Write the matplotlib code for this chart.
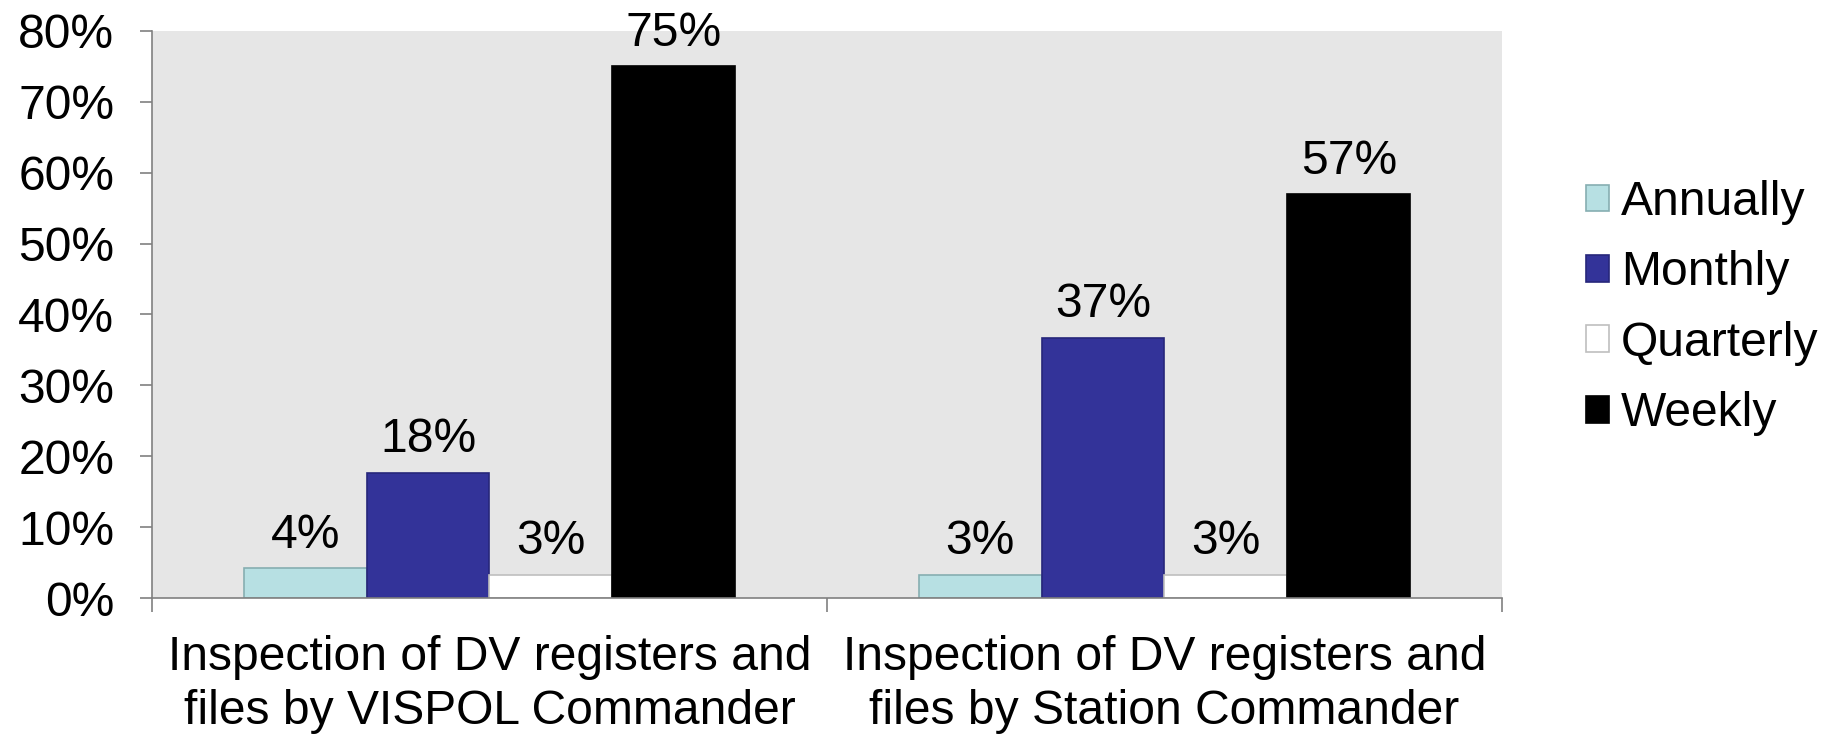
import matplotlib
matplotlib.use("Agg")
import matplotlib.pyplot as plt
import numpy as np

plt.rcParams['font.family'] = ['Liberation Sans', 'DejaVu Sans']

categories = ["Inspection of DV registers and\nfiles by VISPOL Commander",
              "Inspection of DV registers and\nfiles by Station Commander"]
series = ["Annually", "Monthly", "Quarterly", "Weekly"]
annually = [4.2, 3.3]
monthly = [17.7, 36.7]
quarterly = [3.3, 3.3]
weekly = [75.0, 57.0]
values = [annually, monthly, quarterly, weekly]

face = ["#b7e0e3", "#333399", "#ffffff", "#000000"]
edge = ["#86aeb1", "#26267a", "#bfbfbf", "#000000"]
fs = 34.6

fig = plt.figure(figsize=(18.4, 7.36), dpi=100)
ax = fig.add_axes([0.0826, 0.1875, 0.7337, 0.7705])
ax.set_facecolor("#e6e6e6")

x = np.arange(len(categories))
w = 0.182
for i, s in enumerate(series):
    pos = x + (i - 1.5) * w
    bars = ax.bar(pos, values[i], w, color=face[i], edgecolor=edge[i],
                  linewidth=1.2, label=s, zorder=2)
    for b, v in zip(bars, values[i]):
        ax.annotate(f"{v:.0f}%", (b.get_x() + b.get_width() / 2, v),
                    xytext=(0, 7.5), textcoords="offset points",
                    ha="center", va="bottom", fontsize=fs)

ax.set_xlim(-0.5, 1.5)
ax.set_ylim(0, 80)
ax.set_yticks(range(0, 81, 10))
ax.set_yticklabels([f"{t}%" for t in range(0, 81, 10)], fontsize=fs)
ax.set_xticks([-0.5, 0.5, 1.5])
ax.set_xticklabels([])
ax.set_xticks(x, minor=True)
ax.set_xticklabels(categories, minor=True, fontsize=fs, linespacing=1.25)
ax.tick_params(axis="x", which="minor", length=0, pad=27)
ax.tick_params(axis="x", which="major", length=10, color="#808080", width=1.2)
ax.tick_params(axis="y", length=9, color="#808080", width=1.2, pad=18)

for side in ["top", "right"]:
    ax.spines[side].set_visible(False)
for side in ["left", "bottom"]:
    ax.spines[side].set_color("#808080")
    ax.spines[side].set_linewidth(1.2)

leg = ax.legend(loc="center left", bbox_to_anchor=(1.03, 0.511), frameon=False,
                fontsize=fs, handlelength=0.48, handleheight=0.48,
                handletextpad=0.25, labelspacing=0.53)

fig.savefig("out.png", dpi=100)
